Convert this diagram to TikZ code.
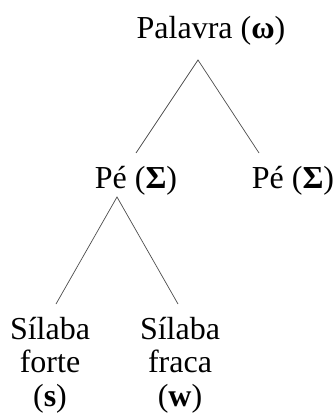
\documentclass[tikz,border=0pt]{standalone}
\usepackage{fontspec}
\setmainfont{Liberation Serif}
\begin{document}
\begin{tikzpicture}[x=1pt,y=-1pt,
  lbl/.style={inner sep=0pt,anchor=base,font=\fontsize{32}{35}\selectfont},
  mlbl/.style={inner sep=0pt,anchor=north,align=center,font=\fontsize{32}{33.5}\selectfont},
  branch/.style={draw=black!70,line width=0.7pt}]
\useasboundingbox (0,0) rectangle (335,414);
\node[lbl] (pal) at (211,39) {Palavra (\textbf{ω})};
\node[lbl] (pe1) at (136,188) {Pé (\textbf{Σ})};
\node[lbl] (pe2) at (293,188) {Pé (\textbf{Σ})};
\node[mlbl] (s1) at (50,317) {Sílaba\\forte\\(\textbf{s})};
\node[mlbl] (s2) at (180,317) {Sílaba\\fraca\\(\textbf{w})};
\coordinate (a1) at (198,60);
\coordinate (l1) at (136,153);
\coordinate (r1) at (259,153);
\coordinate (a2) at (117,197);
\coordinate (l2) at (56,304);
\coordinate (r2) at (178,304);
\draw[branch] (l1) -- (a1) -- (r1);
\draw[branch] (l2) -- (a2) -- (r2);
\end{tikzpicture}
\end{document}
